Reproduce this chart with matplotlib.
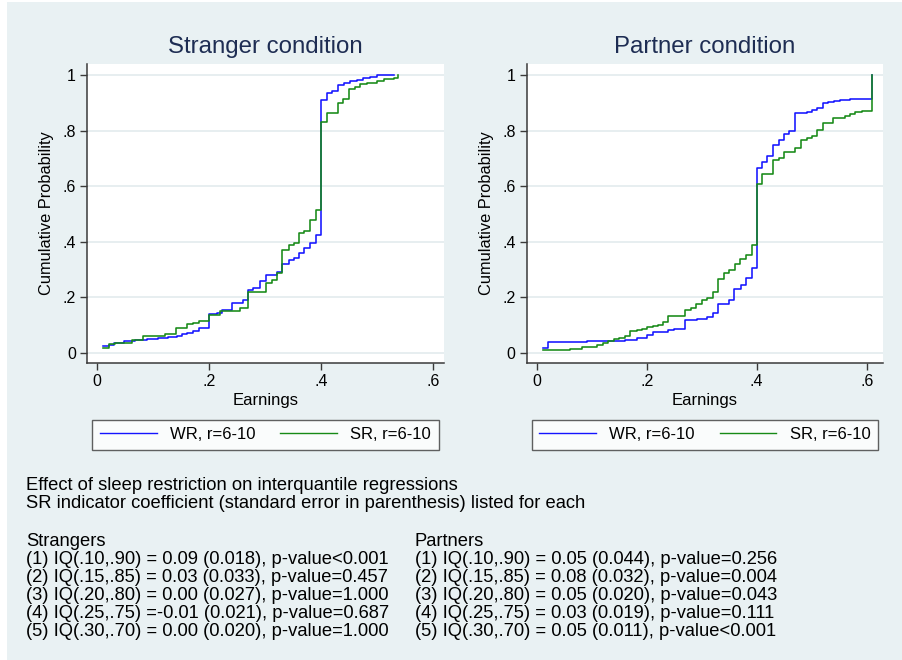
import numpy as np
import matplotlib.pyplot as plt
from matplotlib.patches import Rectangle

plt.rcParams['font.family'] = ['Liberation Sans', 'DejaVu Sans']

# ---- data (ECDF step points: earnings, cumulative prob.) ----
str_wr_x = [0.011, 0.0215, 0.030, 0.047, 0.067, 0.088, 0.109, 0.127, 0.142, 0.151, 0.160, 0.172,
            0.181, 0.200, 0.2135, 0.2225, 0.240, 0.260, 0.270, 0.279, 0.291, 0.301, 0.321, 0.331,
            0.342, 0.351, 0.360, 0.370, 0.381, 0.391, 0.400, 0.410, 0.4205, 0.430, 0.441, 0.452,
            0.464, 0.476, 0.488, 0.500, 0.530]
str_wr_y = [0.024, 0.030, 0.036, 0.042, 0.048, 0.052, 0.055, 0.059, 0.062, 0.067, 0.072, 0.078,
            0.090, 0.139, 0.145, 0.154, 0.180, 0.192, 0.228, 0.233, 0.259, 0.280, 0.293, 0.319,
            0.336, 0.343, 0.360, 0.378, 0.396, 0.424, 0.910, 0.934, 0.942, 0.963, 0.972, 0.977,
            0.983, 0.988, 0.994, 0.999, 1.000]

str_sr_x = [0.011, 0.0215, 0.0316, 0.0614, 0.0823, 0.121, 0.141, 0.160, 0.172, 0.181, 0.200,
            0.2195, 0.255, 0.270, 0.302, 0.312, 0.321, 0.331, 0.342, 0.351, 0.360, 0.370, 0.381,
            0.391, 0.400, 0.410, 0.430, 0.440, 0.451, 0.461, 0.470, 0.482, 0.500, 0.512, 0.531,
            0.5386]
str_sr_y = [0.019, 0.031, 0.037, 0.048, 0.060, 0.067, 0.090, 0.103, 0.109, 0.114, 0.136,
            0.151, 0.163, 0.220, 0.252, 0.262, 0.288, 0.370, 0.388, 0.396, 0.430, 0.439, 0.478,
            0.516, 0.831, 0.864, 0.898, 0.912, 0.950, 0.958, 0.968, 0.972, 0.980, 0.984, 0.988,
            1.000]

par_wr_x = [0.011, 0.020, 0.091, 0.161, 0.182, 0.200, 0.211, 0.239, 0.250, 0.270, 0.291, 0.309,
            0.321, 0.330, 0.350, 0.359, 0.371, 0.381, 0.391, 0.400, 0.409, 0.419, 0.430, 0.441,
            0.450, 0.459, 0.470, 0.491, 0.500, 0.509, 0.520, 0.530, 0.541, 0.552, 0.570, 0.609]
par_wr_y = [0.019, 0.040, 0.043, 0.048, 0.055, 0.065, 0.077, 0.084, 0.088, 0.118, 0.124, 0.130,
            0.144, 0.178, 0.190, 0.232, 0.246, 0.271, 0.304, 0.667, 0.688, 0.708, 0.750, 0.768,
            0.788, 0.800, 0.864, 0.868, 0.874, 0.882, 0.898, 0.902, 0.906, 0.910, 0.914, 1.000]

par_sr_x = [0.011, 0.061, 0.082, 0.109, 0.120, 0.130, 0.141, 0.150, 0.161, 0.170, 0.182, 0.191,
            0.200, 0.211, 0.220, 0.230, 0.239, 0.270, 0.280, 0.290, 0.300, 0.310, 0.320, 0.330,
            0.341, 0.350, 0.361, 0.370, 0.381, 0.391, 0.400, 0.409, 0.430, 0.441, 0.450, 0.470,
            0.480, 0.491, 0.500, 0.509, 0.520, 0.539, 0.561, 0.570, 0.579, 0.591, 0.609]
par_sr_y = [0.012, 0.016, 0.022, 0.028, 0.036, 0.043, 0.049, 0.055, 0.060, 0.078, 0.084, 0.088,
            0.094, 0.097, 0.102, 0.110, 0.132, 0.156, 0.163, 0.175, 0.192, 0.199, 0.220, 0.265,
            0.286, 0.300, 0.319, 0.337, 0.354, 0.390, 0.607, 0.643, 0.696, 0.700, 0.724, 0.736,
            0.766, 0.772, 0.780, 0.802, 0.828, 0.844, 0.852, 0.858, 0.868, 0.870, 1.000]

panel_titles = ["Stranger condition", "Partner condition"]
series_labels = ["WR, r=6-10", "SR, r=6-10"]

# interquantile regression results
iq_ranges = ["(.10,.90)", "(.15,.85)", "(.20,.80)", "(.25,.75)", "(.30,.70)"]
str_coef = [0.09, 0.03, 0.00, -0.01, 0.00]
str_se = [0.018, 0.033, 0.027, 0.021, 0.020]
str_p = [0.0001, 0.457, 1.000, 0.687, 1.000]
par_coef = [0.05, 0.08, 0.05, 0.03, 0.05]
par_se = [0.044, 0.032, 0.020, 0.019, 0.011]
par_p = [0.256, 0.004, 0.043, 0.111, 0.0001]

BG = '#e9f1f3'
AXC = '#3a3a3a'
TITLEC = '#1e2d53'
C_WR = '#1414ff'
C_SR = '#168a16'

W, H = 902, 660
fig = plt.figure(figsize=(W / 100, H / 100), dpi=100, facecolor='white')
fig.patches.append(Rectangle((7 / W, 0), 1, 1 - 2 / H, transform=fig.transFigure,
                             facecolor=BG, edgecolor='none', zorder=-10))

panels = [
    (87, 444, (-0.0184, 0.620), str_wr_x, str_wr_y, str_sr_x, str_sr_y),
    (526.7, 882.7, (-0.018, 0.629), par_wr_x, par_wr_y, par_sr_x, par_sr_y),
]

for i, (x0, x1, xl, wx, wy, sx, sy) in enumerate(panels):
    ax = fig.add_axes([x0 / W, 1 - 363 / H, (x1 - x0) / W, (363 - 64) / H])
    ax.set_facecolor('white')
    ax.step(wx, wy, where='post', color=C_WR, lw=1.15, label=series_labels[0])
    ax.step(sx, sy, where='post', color=C_SR, lw=1.15, label=series_labels[1])
    ax.set_xlim(*xl)
    ax.set_ylim(-0.036, 1.0396)
    ax.set_xticks([0, 0.2, 0.4, 0.6])
    ax.set_xticklabels(["0", ".2", ".4", ".6"])
    ax.set_yticks([0, 0.2, 0.4, 0.6, 0.8, 1.0])
    ax.set_yticklabels(["0", ".2", ".4", ".6", ".8", "1"])
    ax.yaxis.grid(True, color='#e3ebed', lw=1.2)
    ax.set_axisbelow(True)
    for s in ['top', 'right']:
        ax.spines[s].set_visible(False)
    for s in ['left', 'bottom']:
        ax.spines[s].set_color(AXC)
        ax.spines[s].set_linewidth(1.1)
    ax.tick_params(colors=AXC, labelcolor='black', length=5, width=1, labelsize=11.5, pad=3)
    ax.set_xlabel("Earnings", fontsize=12, labelpad=3)
    ax.set_ylabel("Cumulative Probability", fontsize=11.8, labelpad=6)
    ax.set_title(panel_titles[i], fontsize=17.3, color=TITLEC, pad=8)
    leg = ax.legend(loc='upper center', bbox_to_anchor=(0.5, (363 - 419.5) / 299), ncol=2,
                    fontsize=12, frameon=True, fancybox=False, handlelength=3.4,
                    handletextpad=0.8, columnspacing=1.5, borderpad=0.45, borderaxespad=0)
    leg.get_frame().set_edgecolor(AXC)
    leg.get_frame().set_linewidth(1.0)
    for ln in leg.get_lines():
        ln.set_linewidth(1.0)


def fmt_line(k, rng, c, se, p):
    ptxt = "p-value<0.001" if p < 0.001 else f"p-value={p:.3f}"
    return f"({k}) IQ{rng} ={c:5.2f} ({se:.3f}), {ptxt}"


fs = 13.2
fig.text(26 / W, 1 - 486 / H, "Effect of sleep restriction on interquantile regressions",
         fontsize=fs, va='center')
fig.text(26 / W, 1 - 504 / H, "SR indicator coefficient (standard error in parenthesis) listed for each",
         fontsize=fs, va='center')
fig.text(26 / W, 1 - 541 / H, "Strangers", fontsize=fs, va='center')
fig.text(415 / W, 1 - 541 / H, "Partners", fontsize=fs, va='center')
for k in range(len(iq_ranges)):
    yy = 1 - (559 + 18 * k) / H
    fig.text(26 / W, yy, fmt_line(k + 1, iq_ranges[k], str_coef[k], str_se[k], str_p[k]),
             fontsize=fs, va='center')
    fig.text(415 / W, yy, fmt_line(k + 1, iq_ranges[k], par_coef[k], par_se[k], par_p[k]),
             fontsize=fs, va='center')

fig.savefig("out.png", dpi=100, facecolor=fig.get_facecolor())
